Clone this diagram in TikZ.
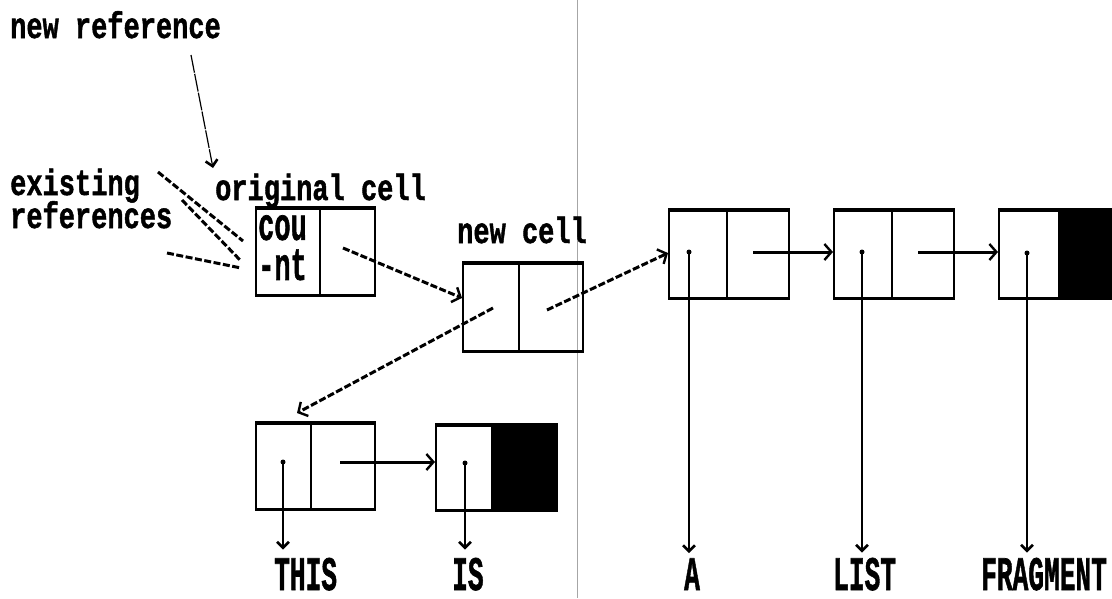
\documentclass[tikz,border=0pt]{standalone}
\usepackage{fontspec}
\usepackage{graphicx}
\setmainfont{Liberation Mono}[BoldFeatures={FakeBold=1.5}]
\usetikzlibrary{arrows.meta}
\newcommand{\lowlbl}[1]{\scalebox{1}[1.35]{#1}}
\newcommand{\caplbl}[1]{\scalebox{0.97}[1.78]{#1}}
\newcommand{\celltxt}[1]{\scalebox{1}[1.7]{#1}}
\tikzset{
  txt/.style={anchor=base west, inner sep=0pt, font=\bfseries\fontsize{27}{27}\selectfont},
  cellbox/.style={draw, line width=1.6pt, anchor=north west, inner sep=0pt, minimum height=86pt},
  edge/.style={line width=4pt},
  divider/.style={line width=1.4pt},
  solidptr/.style={line width=3pt, -{Straight Barb[length=7pt,width=16pt,line width=2.4pt]}},
  downptr/.style={line width=1.3pt, -{Straight Barb[length=6pt,width=12pt,line width=2.6pt]}},
  dashptr/.style={line width=3pt, dash pattern=on 7pt off 2.5pt, -{Straight Barb[length=7pt,width=16pt,line width=2.4pt]}},
  dashref/.style={line width=3pt, dash pattern=on 7pt off 2.5pt},
  thinptr/.style={line width=1.2pt, dash pattern=on 18pt off 1.2pt, -{Straight Barb[length=6pt,width=12pt,line width=2.6pt]}},
  dot/.style={circle, fill, inner sep=0pt, minimum size=5pt},
}
\begin{document}
\begin{tikzpicture}[x=1pt, y=-1pt]
\useasboundingbox (0,0) rectangle (1112,598);
% scan fold line
\draw[gray!70, line width=0.6pt] (577,0) -- (577,598);

% labels
\node[txt] (lnewref) at (10,38) {\lowlbl{new reference}};
\node[txt] (lexist) at (10,195) {\lowlbl{existing}};
\node[txt] (lrefs) at (10,228) {\lowlbl{references}};
\node[txt] (lorig) at (215,200) {\lowlbl{original cell}};
\node[txt] (lnewc) at (457,243) {\lowlbl{new cell}};
\node[txt] (lthis) at (274,590) {\caplbl{THIS}};
\node[txt] (lis) at (452,590) {\caplbl{IS}};
\node[txt] (la) at (684,590) {\caplbl{A}};
\node[txt] (llist) at (833,590) {\caplbl{LIST}};
\node[txt] (lfrag) at (981,590) {\caplbl{FRAGMENT}};

% cells
\node[cellbox, minimum width=119pt] (orig) at (255,208) {};
\node[cellbox, minimum width=120pt, minimum height=87pt] (newc) at (462,263) {};
\node[cellbox, minimum width=120pt, minimum height=87pt] (c1) at (668,210) {};
\node[cellbox, minimum width=120pt, minimum height=87pt] (c2) at (833,210) {};
\node[cellbox, minimum width=116pt, minimum height=87pt] (c3) at (998,210) {};
\node[cellbox, minimum width=119pt, minimum height=85pt] (t1) at (255,423) {};
\node[cellbox, minimum width=121pt, minimum height=84pt] (t2) at (435,425) {};

% filled (nil) halves
\fill ([xshift=60pt]c3.north west) rectangle (c3.south east);
\fill ([xshift=56pt]t2.north west) rectangle (t2.south east);

% dividers
\foreach \n/\d in {orig/65, newc/57, c1/59, c2/59, t1/56} {
  \draw[divider] ([xshift=\d pt]\n.north west) -- ([xshift=\d pt]\n.south west);
}
% heavier top and bottom edges
\foreach \n in {orig, newc, c1, c2, c3, t1, t2} {
  \draw[edge] (\n.north west) -- (\n.north east);
  \draw[line width=2.8pt] (\n.south west) -- (\n.south east);
}

% text in original cell
\node[txt, anchor=north west, align=left] (count) at (258,215)
  {\celltxt{cou}\\[8pt]\celltxt{-nt}};

% pointer origins
\coordinate (po) at (343,248);
\coordinate (pnl) at (493,308);
\coordinate (pnr) at (547,310);
\coordinate (p1) at (753,252);
\coordinate (p2) at (918,252);
\coordinate (pt1) at (340,462);
\node[dot] (d1) at (689,252) {};
\node[dot] (d2) at (862,252) {};
\node[dot] (d3) at (1027,253) {};
\node[dot] (dt1) at (283,462) {};
\node[dot] (dt2) at (465,463) {};

% connectors
\draw[dashptr] (po) -- (newc.west |- 0,298);
\draw[dashptr] (pnl) -- (297,413) coordinate (thistop);
\draw[dashptr] (pnr) -- (c1.west |- 0,253);
\draw[solidptr] (p1) -- (c2.west |- p1);
\draw[solidptr] (p2) -- (c3.west |- p2);
\draw[solidptr] (pt1) -- (t2.west |- pt1);

\draw[downptr] (d1.center) -- ([yshift=5pt]d1 |- la.north);
\draw[downptr] (d2.center) -- ([yshift=5pt]d2 |- llist.north);
\draw[downptr] (d3.center) -- ([yshift=5pt]d3 |- lfrag.north);
\draw[downptr] (dt1.center) -- ([yshift=8pt]dt1 |- lthis.north);
\draw[downptr] (dt2.center) -- ([yshift=8pt]dt2 |- lis.north);

% new reference arrow
\coordinate (nrstart) at (191,55);
\draw[thinptr] (nrstart) -- (213,168) coordinate (nrend);

% existing references
\coordinate (e1) at (158,172);
\coordinate (e2) at (182,200);
\coordinate (e3) at (167,253);
\draw[dashref] (e1) -- (243,241);
\draw[dashref] (e2) -- (241,261);
\draw[dashref] (e3) -- (241,268);
\end{tikzpicture}
\end{document}
